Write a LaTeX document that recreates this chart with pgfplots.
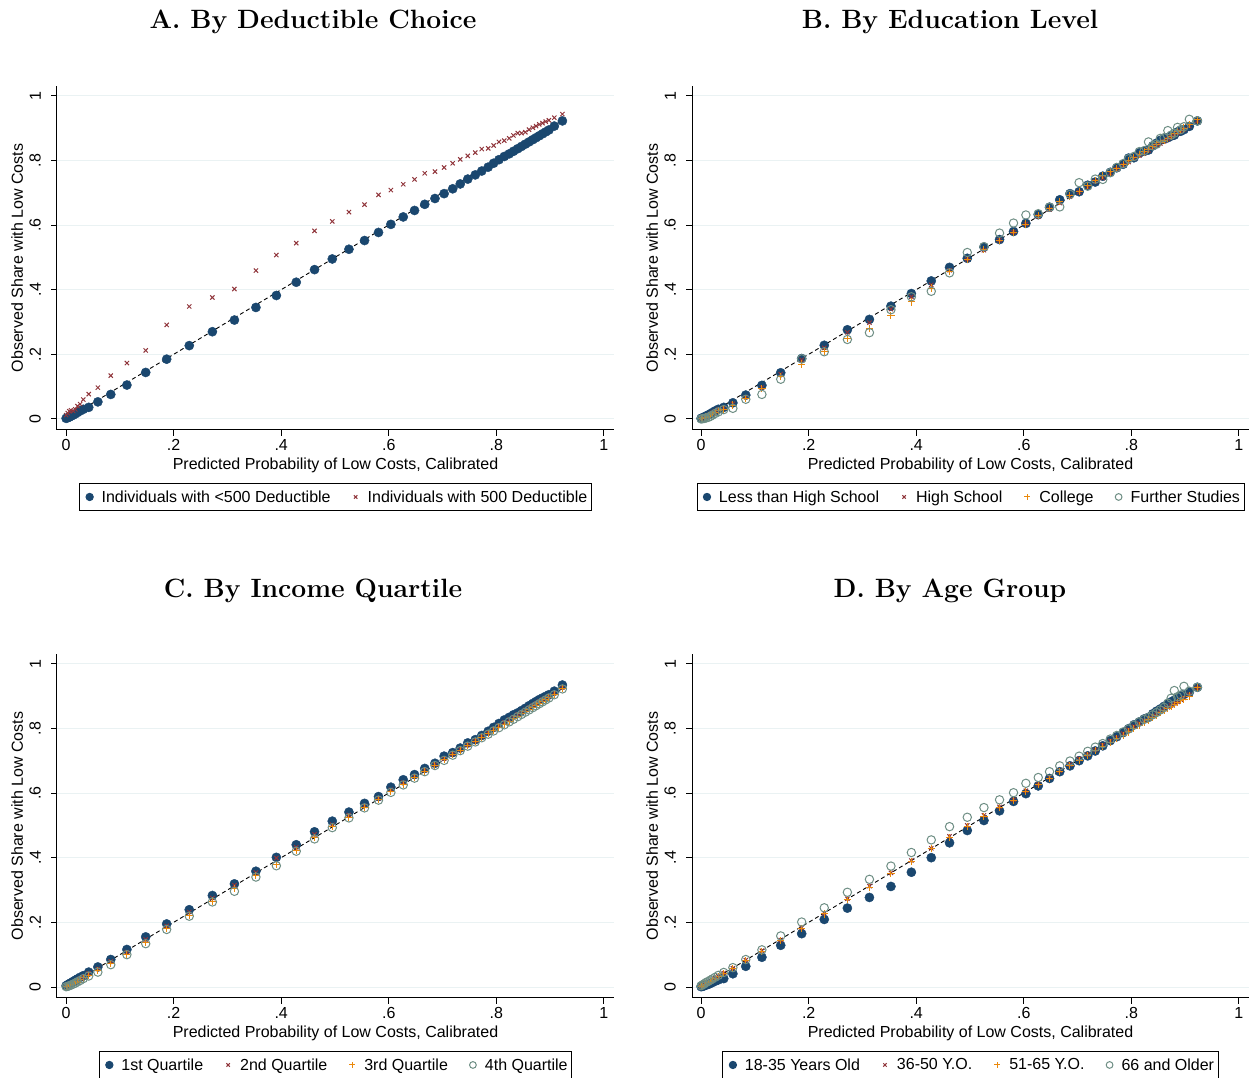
\documentclass[border=0pt]{standalone}
\usepackage{fontspec}
\usepackage{pgfplots}
\usepackage{pgfplotstable}
\pgfplotsset{compat=1.18}
\newfontfamily\arial{Liberation Sans}
\definecolor{snavy}{RGB}{26,71,111}
\definecolor{smaroon}{RGB}{144,53,59}
\definecolor{sorange}{RGB}{234,137,12}
\definecolor{steal}{RGB}{110,142,132}
\definecolor{gridc}{RGB}{234,242,243}

\pgfplotstableread{
x a1 a2
0.000 0.002 0.012
0.003 0.004 0.018
0.006 0.006 0.024
0.009 0.009 0.027
0.013 0.012 0.025
0.017 0.016 0.030
0.021 0.020 0.040
0.026 0.025 0.046
0.032 0.030 0.060
0.042 0.036 0.077
0.059 0.053 0.097
0.083 0.076 0.134
0.113 0.105 0.173
0.148 0.144 0.212
0.187 0.185 0.291
0.229 0.227 0.348
0.272 0.270 0.376
0.313 0.306 0.402
0.353 0.345 0.459
0.391 0.382 0.507
0.428 0.423 0.544
0.462 0.462 0.582
0.495 0.495 0.611
0.526 0.525 0.640
0.555 0.552 0.663
0.581 0.577 0.693
0.604 0.602 0.708
0.627 0.625 0.726
0.648 0.645 0.741
0.667 0.664 0.760
0.686 0.682 0.765
0.703 0.697 0.778
0.719 0.712 0.791
0.733 0.727 0.803
0.747 0.742 0.814
0.761 0.755 0.824
0.773 0.767 0.835
0.785 0.779 0.837
0.795 0.791 0.846
0.805 0.802 0.857
0.815 0.812 0.861
0.824 0.820 0.868
0.832 0.828 0.877
0.840 0.836 0.884
0.847 0.843 0.884
0.854 0.850 0.887
0.861 0.857 0.895
0.868 0.864 0.901
0.874 0.870 0.906
0.880 0.876 0.911
0.886 0.882 0.915
0.892 0.888 0.920
0.898 0.894 0.924
0.908 0.906 0.932
0.923 0.922 0.943
}\tabA

\pgfplotstableread{
x b1 b2 b3 b4
0.000 0.002 0.001 0.000 0.000
0.003 0.004 0.003 0.002 0.001
0.006 0.006 0.005 0.004 0.002
0.009 0.009 0.008 0.006 0.003
0.013 0.012 0.011 0.009 0.005
0.017 0.016 0.015 0.013 0.008
0.021 0.020 0.019 0.017 0.012
0.026 0.025 0.024 0.021 0.017
0.032 0.030 0.029 0.026 0.022
0.042 0.036 0.034 0.030 0.029
0.059 0.050 0.047 0.043 0.033
0.083 0.074 0.068 0.063 0.061
0.113 0.104 0.097 0.095 0.076
0.148 0.143 0.139 0.132 0.123
0.187 0.187 0.183 0.170 0.186
0.229 0.228 0.220 0.210 0.208
0.272 0.276 0.268 0.250 0.246
0.313 0.308 0.298 0.281 0.267
0.353 0.349 0.340 0.320 0.338
0.391 0.388 0.378 0.362 0.378
0.428 0.427 0.415 0.405 0.395
0.462 0.469 0.460 0.455 0.452
0.495 0.497 0.494 0.493 0.515
0.526 0.532 0.522 0.525 0.533
0.555 0.555 0.553 0.552 0.575
0.581 0.580 0.578 0.578 0.606
0.604 0.605 0.603 0.603 0.631
0.627 0.632 0.626 0.630 0.635
0.648 0.655 0.648 0.652 0.655
0.667 0.678 0.668 0.672 0.656
0.686 0.697 0.688 0.690 0.695
0.703 0.703 0.702 0.704 0.731
0.719 0.723 0.716 0.721 0.720
0.733 0.733 0.735 0.738 0.742
0.747 0.751 0.745 0.752 0.741
0.761 0.763 0.760 0.764 0.762
0.773 0.777 0.773 0.775 0.778
0.785 0.788 0.785 0.787 0.790
0.795 0.807 0.795 0.798 0.805
0.805 0.808 0.806 0.810 0.812
0.815 0.823 0.815 0.818 0.827
0.824 0.828 0.822 0.826 0.830
0.832 0.832 0.831 0.834 0.857
0.840 0.845 0.840 0.842 0.845
0.847 0.853 0.846 0.848 0.850
0.854 0.862 0.852 0.856 0.868
0.861 0.866 0.859 0.862 0.870
0.868 0.870 0.866 0.868 0.892
0.874 0.875 0.872 0.874 0.878
0.880 0.878 0.878 0.882 0.884
0.886 0.888 0.884 0.888 0.902
0.892 0.890 0.890 0.893 0.895
0.898 0.895 0.896 0.900 0.904
0.908 0.905 0.906 0.910 0.927
0.923 0.922 0.922 0.925 0.922
}\tabB

\pgfplotstableread{
x c1 c2 c3 c4
0.000 0.004 0.002 0.001 0.001
0.003 0.007 0.004 0.003 0.002
0.006 0.010 0.007 0.005 0.004
0.009 0.013 0.010 0.008 0.006
0.013 0.017 0.013 0.011 0.009
0.017 0.021 0.017 0.015 0.012
0.021 0.025 0.021 0.018 0.016
0.026 0.030 0.026 0.023 0.020
0.032 0.035 0.031 0.028 0.026
0.042 0.046 0.042 0.036 0.034
0.059 0.062 0.056 0.050 0.046
0.083 0.085 0.079 0.072 0.069
0.113 0.116 0.108 0.102 0.100
0.148 0.155 0.147 0.137 0.134
0.187 0.195 0.189 0.180 0.178
0.229 0.239 0.232 0.222 0.219
0.272 0.283 0.275 0.266 0.263
0.313 0.319 0.315 0.304 0.296
0.353 0.358 0.354 0.344 0.340
0.391 0.401 0.399 0.379 0.375
0.428 0.440 0.432 0.421 0.420
0.462 0.480 0.472 0.462 0.458
0.495 0.513 0.502 0.496 0.493
0.526 0.541 0.532 0.525 0.523
0.555 0.568 0.560 0.555 0.554
0.581 0.589 0.584 0.580 0.578
0.604 0.618 0.610 0.605 0.602
0.627 0.641 0.632 0.627 0.625
0.648 0.657 0.652 0.649 0.646
0.667 0.676 0.671 0.668 0.666
0.686 0.692 0.688 0.686 0.685
0.703 0.714 0.706 0.703 0.701
0.719 0.725 0.721 0.719 0.717
0.733 0.739 0.735 0.733 0.731
0.747 0.755 0.749 0.747 0.745
0.761 0.765 0.762 0.760 0.758
0.773 0.778 0.775 0.773 0.771
0.785 0.791 0.787 0.784 0.782
0.795 0.803 0.798 0.794 0.792
0.805 0.815 0.809 0.804 0.802
0.815 0.826 0.819 0.813 0.811
0.824 0.834 0.827 0.822 0.820
0.832 0.842 0.835 0.830 0.828
0.840 0.848 0.843 0.838 0.836
0.847 0.855 0.850 0.845 0.843
0.854 0.862 0.857 0.852 0.850
0.861 0.870 0.864 0.859 0.857
0.868 0.877 0.871 0.866 0.864
0.874 0.883 0.877 0.872 0.870
0.880 0.889 0.883 0.878 0.876
0.886 0.894 0.889 0.884 0.882
0.892 0.899 0.894 0.890 0.888
0.898 0.904 0.900 0.896 0.894
0.908 0.915 0.909 0.906 0.904
0.923 0.934 0.926 0.923 0.922
}\tabC

\pgfplotstableread{
x d1 d2 d3 d4
0.000 0.001 0.002 0.002 0.004
0.003 0.002 0.004 0.004 0.007
0.006 0.004 0.007 0.006 0.010
0.009 0.006 0.010 0.009 0.014
0.013 0.008 0.014 0.013 0.017
0.017 0.011 0.018 0.017 0.021
0.021 0.014 0.022 0.021 0.025
0.026 0.018 0.027 0.026 0.030
0.032 0.022 0.033 0.032 0.036
0.042 0.026 0.043 0.041 0.045
0.059 0.041 0.058 0.057 0.060
0.083 0.064 0.083 0.081 0.085
0.113 0.092 0.112 0.110 0.115
0.148 0.129 0.145 0.143 0.158
0.187 0.165 0.183 0.182 0.201
0.229 0.209 0.228 0.226 0.245
0.272 0.244 0.273 0.270 0.293
0.313 0.277 0.312 0.308 0.333
0.353 0.311 0.353 0.350 0.374
0.391 0.355 0.391 0.388 0.416
0.428 0.400 0.429 0.428 0.455
0.462 0.446 0.466 0.462 0.496
0.495 0.484 0.500 0.497 0.525
0.526 0.515 0.531 0.527 0.555
0.555 0.545 0.557 0.555 0.579
0.581 0.574 0.579 0.578 0.601
0.604 0.598 0.607 0.604 0.630
0.627 0.622 0.627 0.626 0.648
0.648 0.645 0.648 0.646 0.666
0.667 0.666 0.669 0.666 0.684
0.686 0.684 0.688 0.684 0.699
0.703 0.700 0.706 0.701 0.714
0.719 0.715 0.719 0.717 0.729
0.733 0.730 0.733 0.731 0.742
0.747 0.746 0.748 0.745 0.753
0.761 0.762 0.761 0.756 0.767
0.773 0.774 0.771 0.768 0.778
0.785 0.787 0.784 0.779 0.789
0.795 0.799 0.796 0.789 0.798
0.805 0.811 0.806 0.800 0.810
0.815 0.820 0.816 0.809 0.820
0.824 0.829 0.824 0.818 0.828
0.832 0.834 0.832 0.826 0.834
0.840 0.845 0.839 0.834 0.842
0.847 0.853 0.846 0.841 0.849
0.854 0.860 0.852 0.848 0.857
0.861 0.868 0.859 0.855 0.865
0.868 0.876 0.865 0.861 0.878
0.874 0.882 0.871 0.867 0.893
0.880 0.887 0.877 0.873 0.917
0.886 0.893 0.882 0.879 0.898
0.892 0.899 0.889 0.885 0.903
0.898 0.905 0.894 0.890 0.930
0.908 0.912 0.904 0.900 0.915
0.923 0.927 0.925 0.925 0.927
}\tabD

\pgfplotsset{
  stata/.style={
    scale only axis, width=557pt, height=344pt,
    xmin=-0.017, xmax=1.019, ymin=-0.034, ymax=1.03,
    axis x line*=bottom, axis y line*=left,
    axis line style={line width=1pt, -},
    xtick={0,0.2,0.4,0.6,0.8,1}, xticklabels={0,.2,.4,.6,.8,1},
    ytick={0,0.2,0.4,0.6,0.8,1}, yticklabels={0,.2,.4,.6,.8,1},
    tick align=outside, major tick length=6pt,
    tick style={line width=1pt, black},
    ymajorgrids, grid style={line width=1pt, gridc},
    tick label style={font=\arial\fontsize{16}{18}\selectfont},
    yticklabel style={rotate=90, anchor=south, inner ysep=10pt},
    label style={font=\arial\fontsize{16}{18}\selectfont},
    xlabel={Predicted Probability of Low Costs, Calibrated},
    ylabel={Observed Share with Low Costs},
    xlabel style={yshift=0pt},
    ylabel style={yshift=-7pt},
    legend style={at={(0.5,-0.154)}, anchor=north, draw=black, line width=0.9pt,
      font=\arial\fontsize{16}{18}\selectfont, inner xsep=2pt, inner ysep=5pt,
      /tikz/every even column/.append style={column sep=15pt}},
    legend columns=-1,
    legend image code/.code={%
      \path[draw=none,fill=none] (0pt,-4pt) rectangle (18pt,4pt);
      \draw[mark repeat=2,mark phase=2,#1,every mark/.append style={scale=0.8}] plot coordinates {(0pt,0pt)(8pt,0pt)(16pt,0pt)};},
  },
  s1/.style={only marks, mark=*, mark size=4.6pt, color=snavy, fill=snavy},
  s2/.style={only marks, mark=x, mark size=3pt, color=smaroon, line width=1pt},
  s3/.style={only marks, mark=+, mark size=3.6pt, color=sorange, line width=1pt},
  s4/.style={only marks, mark=o, mark size=4.2pt, color=steal, line width=1pt},
  diag/.style={black, line width=0.9pt, dash pattern=on 4pt off 3pt, forget plot},
}

\begin{document}
\begin{tikzpicture}
\useasboundingbox (0,0) rectangle (1253pt,1078pt);
\node[anchor=base, font=\fontsize{26.5}{30}\selectfont\bfseries] at (313pt,1049pt) {A. By Deductible Choice};
\node[anchor=base, font=\fontsize{26.5}{30}\selectfont\bfseries] at (950pt,1049pt) {B. By Education Level};
\node[anchor=base, font=\fontsize{26.5}{30}\selectfont\bfseries] at (313pt,480pt) {C. By Income Quartile};
\node[anchor=base, font=\fontsize{26.5}{30}\selectfont\bfseries] at (950pt,480pt) {D. By Age Group};

\begin{axis}[stata, at={(57pt,648pt)}, anchor=south west]
\addplot[diag] coordinates {(0,0) (0.923,0.923)};
\addplot[s1] table[x=x,y=a1] {\tabA};
\addplot[s2] table[x=x,y=a2] {\tabA};
\legend{Individuals with <500 Deductible, Individuals with 500 Deductible}
\end{axis}

\begin{axis}[stata, at={(692pt,648pt)}, anchor=south west]
\addplot[diag] coordinates {(0,0) (0.923,0.923)};
\addplot[s1] table[x=x,y=b1] {\tabB};
\addplot[s2] table[x=x,y=b2] {\tabB};
\addplot[s3] table[x=x,y=b3] {\tabB};
\addplot[s4] table[x=x,y=b4] {\tabB};
\legend{Less than High School, High School, College, Further Studies}
\end{axis}

\begin{axis}[stata, at={(57pt,80pt)}, anchor=south west]
\addplot[diag] coordinates {(0,0) (0.923,0.923)};
\addplot[s1] table[x=x,y=c1] {\tabC};
\addplot[s2] table[x=x,y=c2] {\tabC};
\addplot[s3] table[x=x,y=c3] {\tabC};
\addplot[s4] table[x=x,y=c4] {\tabC};
\legend{1st Quartile, 2nd Quartile, 3rd Quartile, 4th Quartile}
\end{axis}

\begin{axis}[stata, at={(692pt,80pt)}, anchor=south west]
\addplot[diag] coordinates {(0,0) (0.923,0.923)};
\addplot[s1] table[x=x,y=d1] {\tabD};
\addplot[s2] table[x=x,y=d2] {\tabD};
\addplot[s3] table[x=x,y=d3] {\tabD};
\addplot[s4] table[x=x,y=d4] {\tabD};
\legend{18-35 Years Old, 36-50 Y.O., 51-65 Y.O., 66 and Older}
\end{axis}
\end{tikzpicture}
\end{document}
